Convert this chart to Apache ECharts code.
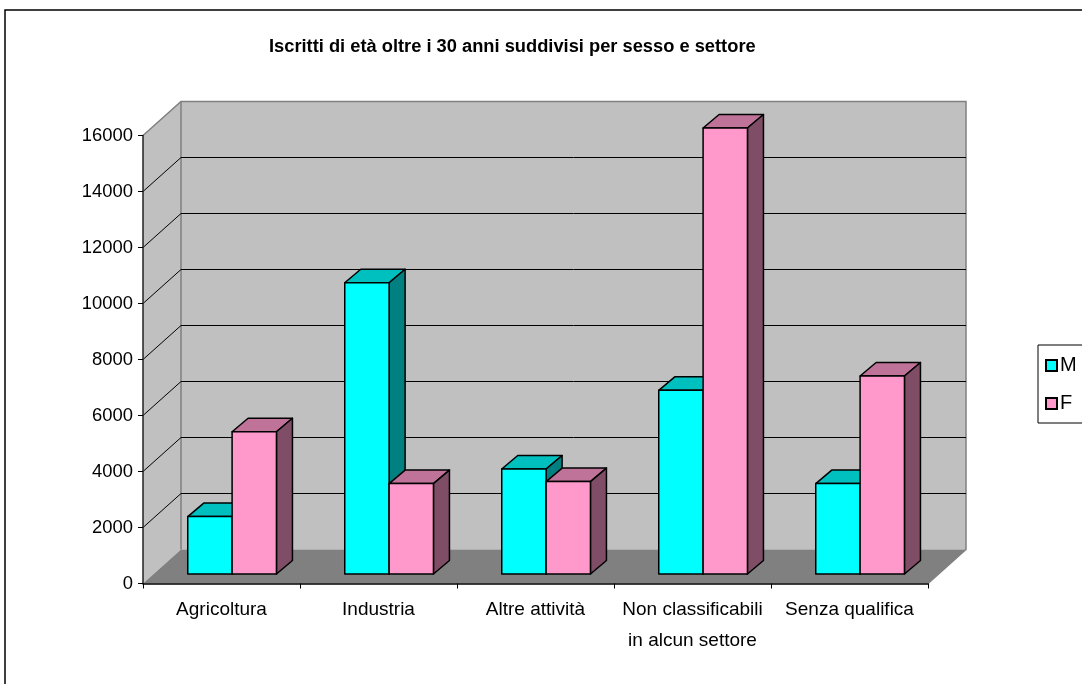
<!DOCTYPE html>
<html>
<head>
<meta charset="utf-8">
<script src="https://cdn.jsdelivr.net/npm/echarts@6/dist/echarts.min.js"></script>
<style>
html,body{margin:0;padding:0;background:#fff;}
#chart{width:1082px;height:684px;}
</style>
</head>
<body>
<div id="chart"></div>
<script>
var categories = ['Agricoltura', 'Industria', 'Altre attività', 'Non classificabili\nin alcun settore', 'Senza qualifica'];
var seriesNames = ['M', 'F'];
var valuesM = [2050, 10400, 3750, 6560, 3230];
var valuesF = [5080, 3230, 3300, 15930, 7070];
var yTicks = [0, 2000, 4000, 6000, 8000, 10000, 12000, 14000, 16000];
var titleText = 'Iscritti di età oltre i 30 anni suddivisi per sesso e settore';

// 3D projection offsets (pixels)
var WALL_DX = 38, WALL_DY = -34;
var BAR_FX = 10.6, BAR_FY = -9.5;   // bar front-plane offset from axis plane
var BAR_DX = 16, BAR_DY = -13.5;    // bar depth
var FONT = '"Liberation Sans", Arial, sans-serif';

var colors = {
  M: {front: '#00FFFF', top: '#00BFBF', side: '#008080'},
  F: {front: '#FF99CC', top: '#BF7399', side: '#804D66'}
};

var chart = echarts.init(document.getElementById('chart'), null, {renderer: 'canvas'});

function wallsRender(params, api) {
  var p0 = api.coord([0, 0]);
  var xStart = p0[0] - api.size([1, 0])[0] / 2;
  var xEnd = xStart + api.size([1, 0])[0] * categories.length;
  var yBot = p0[1];
  var yTop = api.coord([0, yTicks[yTicks.length - 1]])[1];
  var wall = {fill: '#C0C0C0'};
  return {
    type: 'group',
    children: [
      {type: 'polygon', shape: {points: [[xStart + WALL_DX, yTop + WALL_DY], [xEnd + WALL_DX, yTop + WALL_DY], [xEnd + WALL_DX, yBot + WALL_DY], [xStart + WALL_DX, yBot + WALL_DY]]}, style: wall},
      {type: 'polygon', shape: {points: [[xStart, yTop], [xStart + WALL_DX, yTop + WALL_DY], [xStart + WALL_DX, yBot + WALL_DY], [xStart, yBot]]}, style: wall},
      {type: 'polygon', shape: {points: [[xStart, yBot], [xStart + WALL_DX, yBot + WALL_DY], [xEnd + WALL_DX, yBot + WALL_DY], [xEnd, yBot]]}, style: {fill: '#808080'}},
      {type: 'polyline', shape: {points: [[xStart, yTop], [xStart + WALL_DX, yTop + WALL_DY], [xEnd + WALL_DX, yTop + WALL_DY], [xEnd + WALL_DX, yBot + WALL_DY], [xEnd, yBot]]}, style: {stroke: '#808080', lineWidth: 1.5, fill: null}},
      {type: 'line', shape: {x1: xStart + WALL_DX, y1: yTop + WALL_DY, x2: xStart + WALL_DX, y2: yBot + WALL_DY}, style: {stroke: '#808080', lineWidth: 1.5}}
    ]
  };
}

function gridRender(params, api) {
  var v = api.value(0);
  var p0 = api.coord([0, v]);
  var xStart = p0[0] - api.size([1, 0])[0] / 2;
  var xEnd = xStart + api.size([1, 0])[0] * categories.length;
  var y = p0[1];
  return {
    type: 'group',
    children: [
      {type: 'line', shape: {x1: xStart, y1: y, x2: xStart + WALL_DX, y2: y + WALL_DY}, style: {stroke: '#000', lineWidth: 1}},
      {type: 'line', shape: {x1: xStart + WALL_DX, y1: y + WALL_DY, x2: xEnd + WALL_DX, y2: y + WALL_DY}, style: {stroke: '#000', lineWidth: 1}}
    ]
  };
}

function makeBarRender(idx, c) {
  return function (params, api) {
    var cat = api.value(0);
    var val = api.value(1);
    var top = api.coord([cat, val]);
    var base = api.coord([cat, 0]);
    var bw = api.size([1, 0])[0] * 0.2825;
    var x0 = top[0] + BAR_FX - bw + idx * bw;
    var x1 = x0 + bw;
    var yt = top[1] + BAR_FY;
    var yb = base[1] + BAR_FY;
    var ln = {stroke: '#000', lineWidth: 1.5, lineJoin: 'round'};
    return {
      type: 'group',
      children: [
        {type: 'polygon', shape: {points: [[x0, yt], [x1, yt], [x1 + BAR_DX, yt + BAR_DY], [x0 + BAR_DX, yt + BAR_DY]]}, style: Object.assign({fill: c.top}, ln)},
        {type: 'polygon', shape: {points: [[x1, yt], [x1 + BAR_DX, yt + BAR_DY], [x1 + BAR_DX, yb + BAR_DY], [x1, yb]]}, style: Object.assign({fill: c.side}, ln)},
        {type: 'rect', shape: {x: x0, y: yt, width: bw, height: yb - yt}, style: Object.assign({fill: c.front}, ln)}
      ]
    };
  };
}

var option = {
  backgroundColor: '#fff',
  animation: false,
  title: {
    text: titleText,
    left: 264,
    top: 33,
    textStyle: {fontFamily: FONT, fontSize: 18.3, fontWeight: 'bold', color: '#000'}
  },
  legend: {
    data: seriesNames,
    orient: 'vertical',
    left: 1038,
    top: 345,
    padding: [10.5, 40, 9.5, 7],
    itemWidth: 11,
    itemHeight: 11,
    itemGap: 18,
    icon: 'rect',
    borderColor: '#000',
    borderWidth: 1,
    textStyle: {fontFamily: FONT, fontSize: 20, color: '#000', padding: [0, 0, 0, -2]},
    selectedMode: false
  },
  graphic: [
    {type: 'rect', shape: {x: 5, y: 10, width: 1200, height: 800}, style: {fill: null, stroke: '#000', lineWidth: 1.5}, z: 100}
  ],
  grid: {left: 143, right: 154, top: 135.5, bottom: 100.5, containLabel: false},
  xAxis: {
    type: 'category',
    data: categories,
    boundaryGap: true,
    axisLine: {lineStyle: {color: '#000', width: 1.5}},
    axisTick: {show: true, length: 5, inside: false, lineStyle: {color: '#000', width: 1}},
    axisLabel: {fontFamily: FONT, fontSize: 19, color: '#000', margin: 11, lineHeight: 31, interval: 0},
    splitLine: {show: false},
    z: 10
  },
  yAxis: {
    type: 'value',
    min: 0,
    max: yTicks[yTicks.length - 1],
    interval: 2000,
    axisLine: {show: true, lineStyle: {color: '#222', width: 1.5}},
    axisTick: {show: true, length: 5, lineStyle: {color: '#000', width: 1}},
    axisLabel: {fontFamily: FONT, fontSize: 18.4, color: '#000', margin: 10, formatter: function (v) { return String(v); }},
    splitLine: {show: false},
    z: 10
  },
  series: [
    {
      name: 'walls', type: 'custom', z: 1, silent: true,
      data: [[0]], renderItem: wallsRender, encode: {y: 0}
    },
    {
      name: 'grid', type: 'custom', z: 2, silent: true,
      data: yTicks.slice(1, yTicks.length - 1).map(function (v) { return [v]; }),
      renderItem: gridRender, encode: {y: 0}
    },
    {
      name: 'M', type: 'custom', z: 3,
      itemStyle: {color: colors.M.front, borderColor: '#000', borderWidth: 1},
      data: valuesM.map(function (v, i) { return [i, v]; }),
      renderItem: makeBarRender(0, colors.M), encode: {x: 0, y: 1}
    },
    {
      name: 'F', type: 'custom', z: 4,
      itemStyle: {color: colors.F.front, borderColor: '#000', borderWidth: 1},
      data: valuesF.map(function (v, i) { return [i, v]; }),
      renderItem: makeBarRender(1, colors.F), encode: {x: 0, y: 1}
    }
  ]
};
chart.setOption(option);
</script>
</body>
</html>
